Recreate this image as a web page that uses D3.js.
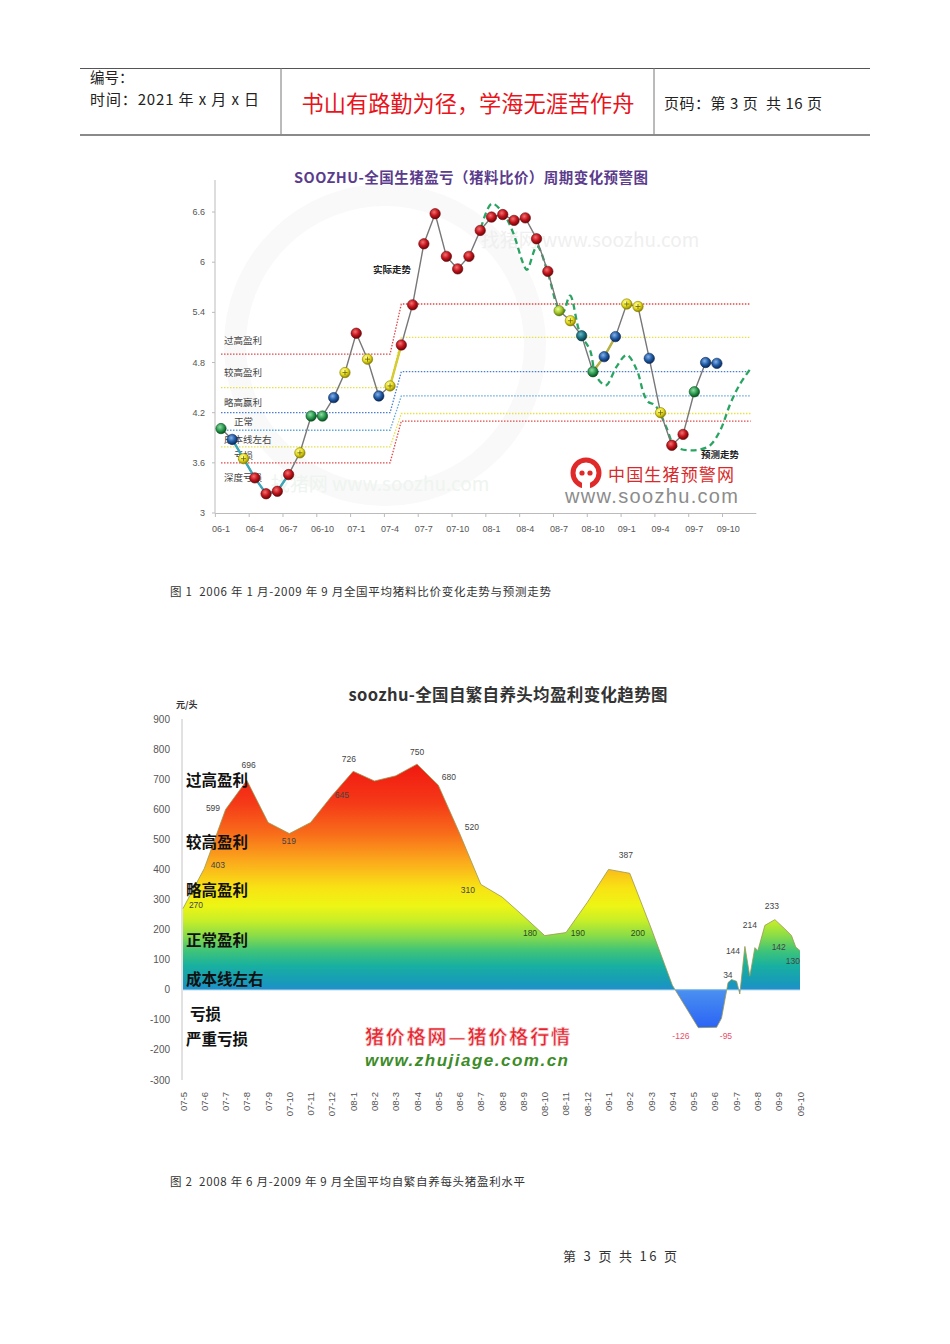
<!DOCTYPE html>
<html>
<head>
<meta charset="utf-8">
<script src="https://cdn.jsdelivr.net/npm/d3@7"></script>
<style>
body { margin: 0; background: #fff; }
svg { display: block; }
text { font-family: "Liberation Sans", "Noto Sans CJK SC", sans-serif; }
.cjk { font-family: "Noto Sans CJK SC", sans-serif; }
.pre { white-space: pre; }
</style>
</head>
<body>
<div id="page"></div>
<script>
// ---------- data: chart 1 (pig/feed price ratio) ----------
const ratioTickLabels = ['06-1', '06-4', '06-7', '06-10', '07-1', '07-4', '07-7', '07-10',
    '08-1', '08-4', '08-7', '08-10', '09-1', '09-4', '09-7', '09-10'];
const ratioYTicks = [3, 3.6, 4.2, 4.8, 5.4, 6, 6.6];
const ratioValues = [4.01, 3.88, 3.65, 3.42, 3.23, 3.26, 3.46, 3.72, 4.16, 4.16, 4.38, 4.68,
    5.15, 4.84, 4.40, 4.52, 5.01, 5.49, 6.22, 6.58, 6.07, 5.92, 6.07, 6.38,
    6.54, 6.57, 6.50, 6.53, 6.28, 5.89, 5.42, 5.30, 5.12, 4.69, 4.87, 5.11,
    5.50, 5.47, 4.85, 4.20, 3.81, 3.94, 4.45, 4.80, 4.79];
const ratioZones = ['g', 'b', 'y', 'r', 'r', 'r', 'r', 'y', 'g', 'g', 'b', 'y',
    'r', 'y', 'b', 'y', 'r', 'r', 'r', 'r', 'r', 'r', 'r', 'r',
    'r', 'r', 'r', 'r', 'r', 'r', 'yg', 'y', 't', 'g', 'b', 'b',
    'y', 'y', 'b', 'y', 'r', 'r', 'g', 'b', 'b'];
const forecastMonths = [23.07, 24.02, 25.02, 25.9, 26.8, 27.15, 28.04, 29.0, 29.9, 30.35,
    30.97, 31.85, 32.74, 33.2, 33.8, 34.2, 35.1, 36.0, 36.9, 37.5,
    37.9, 38.5, 39.5, 40.1, 40.7, 41.6, 42.5, 43.4, 44.3, 45.2, 46.0, 47.1];
const forecastValues = [6.41, 6.70, 6.59, 6.36, 5.99, 5.91, 6.19, 5.87, 5.46, 5.40,
    5.60, 5.15, 4.95, 4.67, 4.55, 4.53, 4.75, 4.89, 4.71, 4.43,
    4.33, 4.29, 4.03, 3.83, 3.77, 3.75, 3.76, 3.81, 3.99, 4.31, 4.53, 4.75];
// warning thresholds before and after the 2007 step
const thresholdBefore = [4.90, 4.50, 4.20, 3.99, 3.79, 3.60];
const thresholdAfter = [5.50, 5.10, 4.69, 4.40, 4.19, 4.10];
const thresholdStepMonths = [0, 15, 16, 47];
const zoneNames = ['过高盈利', '较高盈利', '略高赢利', '正常', '成本线左右', '亏损', '深度亏损'];
const zoneLevels = [5.07, 4.69, 4.33, 4.10, 3.89, 3.69, 3.43];

// ---------- data: chart 2 (profit per head) ----------
const profitTickLabels = ['07-5', '07-6', '07-7', '07-8', '07-9', '07-10', '07-11', '07-12',
    '08-1', '08-2', '08-3', '08-4', '08-5', '08-6', '08-7', '08-8', '08-9', '08-10', '08-11', '08-12',
    '09-1', '09-2', '09-3', '09-4', '09-5', '09-6', '09-7', '09-8', '09-9', '09-10'];
const profitYTicks = [-300, -200, -100, 0, 100, 200, 300, 400, 500, 600, 700, 800, 900];
const profitMonths = [0, 1, 2, 3, 4, 5, 6, 7, 8, 9, 10, 11, 12, 13, 14, 15, 16, 17, 18, 19,
    20, 21, 22, 23, 24.22, 25.08, 25.31, 25.62, 25.78, 26.02, 26.17, 26.41, 26.64, 26.88,
    27.02, 27.35, 27.82, 28.29, 28.6, 28.8, 29];
const profitValues = [270, 403, 599, 696, 556, 519, 556, 645, 726, 694, 711, 750, 680, 520, 350, 308,
    245, 180, 190, 290, 400, 387, 205, 15, -126, -125, -95, 24, 34, 28, -14, 144, 45, 140,
    130, 214, 233, 202, 180, 142, 130];
const profitLabelText = ['270', '403', '599', '696', '519', '645', '726', '750', '680', '520', '310',
    '180', '190', '200', '387', '-126', '-95', '34', '144', '214', '233', '142', '130'];
const profitLabelMonths = [0.61, 1.64, 1.41, 3.08, 4.98, 7.47, 7.80, 11.0, 12.5, 13.58, 13.39,
    16.31, 18.56, 21.38, 20.82, 23.4, 25.52, 25.61, 25.85, 26.64, 27.68, 28.0, 28.66];
const profitLabelLevels = [282, 415, 604, 748, 494, 647, 767, 790, 707, 541, 332,
    189, 189, 189, 448, -154, -154, 49, 129, 215, 279, 142, 96];
const profitZoneNames = ['过高盈利', '较高盈利', '略高盈利', '正常盈利', '成本线左右', '亏损', '严重亏损'];
const profitZoneLevels = [697, 490, 330, 165, 36, -80, -165];

// ---------- page ----------
const svg = d3.select('#page').append('svg')
    .attr('width', 950)
    .attr('height', 1344);
svg.append('rect').attr('width', 950).attr('height', 1344).attr('fill', '#fff');
const defs = svg.append('defs');

// header table
const head = svg.append('g');
head.append('line').attr('x1', 80).attr('x2', 870).attr('y1', 68.5).attr('y2', 68.5)
    .attr('stroke', '#555').attr('stroke-width', 1);
head.append('line').attr('x1', 80).attr('x2', 870).attr('y1', 135).attr('y2', 135)
    .attr('stroke', '#8a8a8a').attr('stroke-width', 2);
[281, 654].forEach(function (x) {
    head.append('line').attr('x1', x).attr('x2', x).attr('y1', 68).attr('y2', 134)
        .attr('stroke', '#777').attr('stroke-width', 1);
});
head.append('text').attr('class', 'cjk').attr('x', 90).attr('y', 82.5)
    .attr('font-size', 14.5).attr('fill', '#222').text('编号：');
head.append('text').attr('class', 'cjk pre').attr('x', 90).attr('y', 105)
    .attr('font-size', 15).attr('fill', '#222').attr('textLength', 169)
    .text('时间：2021 年 x 月 x 日');
head.append('text').attr('class', 'cjk').attr('x', 468).attr('y', 112)
    .attr('text-anchor', 'middle').attr('font-size', 22.2).attr('fill', '#e8141c')
    .text('书山有路勤为径，学海无涯苦作舟');
head.append('text').attr('class', 'cjk pre').attr('x', 664).attr('y', 109)
    .attr('font-size', 15).attr('fill', '#222').attr('textLength', 158)
    .text('页码：第 3 页  共 16 页');

// ---------- chart 1 ----------
const c1 = svg.append('g');
const x1 = d3.scaleLinear().domain([0, 47]).range([221, 750.7]);
const y1 = d3.scaleLinear().domain([3, 7]).range([513, 178.6]);

// faint backdrop and watermarks
c1.append('circle').attr('cx', 385).attr('cy', 345).attr('r', 150)
    .attr('fill', 'none').attr('stroke', '#f9f9f9').attr('stroke-width', 22);
c1.append('text').attr('class', 'cjk').attr('x', 590).attr('y', 247)
    .attr('text-anchor', 'middle').attr('font-size', 19).attr('fill', '#efefef')
    .text('找猪网 www.soozhu.com');
c1.append('text').attr('class', 'cjk').attr('x', 380).attr('y', 491)
    .attr('text-anchor', 'middle').attr('font-size', 19).attr('fill', '#eef4ef')
    .text('找猪网 www.soozhu.com');

// title
c1.append('text').attr('class', 'cjk').attr('x', 471).attr('y', 183)
    .attr('text-anchor', 'middle').attr('font-size', 14.5).attr('font-weight', 700)
    .attr('fill', '#5b3c8c').attr('textLength', 354)
    .text('SOOZHU-全国生猪盈亏（猪料比价）周期变化预警图');

// axes
c1.append('line').attr('x1', 215).attr('x2', 215).attr('y1', 180).attr('y2', 513)
    .attr('stroke', '#bbb');
c1.append('line').attr('x1', x1(-0.5)).attr('x2', x1(47.5)).attr('y1', 513.5).attr('y2', 513.5)
    .attr('stroke', '#bbb');
const y1Axis = c1.append('g').selectAll('g').data(ratioYTicks).join('g');
y1Axis.append('line').attr('x1', 212).attr('x2', 215)
    .attr('y1', d => y1(d)).attr('y2', d => y1(d)).attr('stroke', '#bbb');
y1Axis.append('text').attr('x', 205).attr('y', d => y1(d) + 3)
    .attr('text-anchor', 'end').attr('font-size', 9).attr('fill', '#555')
    .text(d => d3.format('~g')(d));
const x1Ticks = c1.append('g').selectAll('g').data(ratioTickLabels).join('g');
x1Ticks.append('line')
    .attr('x1', (d, i) => x1(i * 3 - 0.5)).attr('x2', (d, i) => x1(i * 3 - 0.5))
    .attr('y1', 513).attr('y2', 517).attr('stroke', '#bbb');
x1Ticks.append('text').attr('x', (d, i) => x1(i * 3)).attr('y', 532)
    .attr('text-anchor', 'middle').attr('font-size', 9).attr('fill', '#555').text(d => d);

// threshold lines
const thresholdColors = ['#e04848', '#e8e048', '#4a7ed0', '#62a8dc', '#e8e048', '#e04848'];
const stepLine = d3.line().x(d => x1(d[0])).y(d => y1(d[1]));
thresholdBefore.forEach(function (v, k) {
    const lv = [v, v, thresholdAfter[k], thresholdAfter[k]];
    c1.append('path')
        .attr('d', stepLine(thresholdStepMonths.map((m, j) => [m, lv[j]])))
        .attr('fill', 'none').attr('stroke', thresholdColors[k])
        .attr('stroke-width', 1.3).attr('stroke-dasharray', '1.5,1.5');
});
c1.selectAll('.zone').data(zoneNames).join('text')
    .attr('class', 'zone cjk')
    .attr('x', (d, i) => (i === 3 || i === 5) ? 234 : 224)
    .attr('y', (d, i) => y1(zoneLevels[i]) + 4)
    .attr('font-size', 9.5).attr('fill', '#444').text(d => d);

// forecast curve
c1.append('path')
    .attr('d', d3.line().curve(d3.curveCatmullRom.alpha(0.5))
        .x((d, i) => x1(forecastMonths[i])).y(d => y1(d))(forecastValues))
    .attr('fill', 'none').attr('stroke', '#2aa462').attr('stroke-width', 2.3)
    .attr('stroke-dasharray', '6,4');

// actual line
const actualLine = d3.line().x((d, i) => x1(i)).y(d => y1(d));
c1.append('path').attr('d', actualLine(ratioValues))
    .attr('fill', 'none').attr('stroke', '#777').attr('stroke-width', 1.4);
const lineAccents = [[1, 6, '#3aa6b8'], [15, 16, '#d6cc30'], [33, 35, '#b8b040']];
lineAccents.forEach(function (a) {
    c1.append('path')
        .attr('d', d3.line().x(d => x1(d)).y(d => y1(ratioValues[d]))(d3.range(a[0], a[1] + 1)))
        .attr('fill', 'none').attr('stroke', a[2]).attr('stroke-width', 2.4);
});

// dots
const zoneColors = {
    r: ['#f27070', '#c4141c', '#6a0608'],
    y: ['#ffffb0', '#e6dc1e', '#8a8000'],
    b: ['#86b2ea', '#215ca6', '#0a2858'],
    g: ['#90dca0', '#2c9c52', '#0a5020'],
    t: ['#6ab8c4', '#1b7282', '#0a3840'],
    yg: ['#e8ff90', '#a6c82e', '#5a780c']
};
Object.keys(zoneColors).forEach(function (k) {
    const g = defs.append('radialGradient').attr('id', 'ball-' + k)
        .attr('cx', '40%').attr('cy', '35%').attr('r', '65%');
    g.append('stop').attr('offset', '0%').attr('stop-color', zoneColors[k][0]);
    g.append('stop').attr('offset', '55%').attr('stop-color', zoneColors[k][1]);
    g.append('stop').attr('offset', '100%').attr('stop-color', zoneColors[k][2]);
});
const balls = ratioValues.map((v, i) => ({ m: i, v: v, zone: ratioZones[i] }));
c1.selectAll('.ball').data(balls).join('circle')
    .attr('class', 'ball')
    .attr('cx', d => x1(d.m)).attr('cy', d => y1(d.v)).attr('r', 5.2)
    .attr('fill', d => 'url(#ball-' + d.zone + ')')
    .attr('stroke', d => zoneColors[d.zone][2]).attr('stroke-width', 0.6);
c1.selectAll('.cross').data(balls.filter(d => d.zone === 'y')).join('path')
    .attr('class', 'cross')
    .attr('d', d => 'M' + (x1(d.m) - 2.5) + ',' + y1(d.v) + 'h5M' + x1(d.m) + ',' + (y1(d.v) - 2.5) + 'v5')
    .attr('stroke', '#6a6200').attr('stroke-width', 0.8);

c1.append('text').attr('class', 'cjk').attr('x', 373).attr('y', 273)
    .attr('font-size', 9.5).attr('font-weight', 700).attr('fill', '#222').text('实际走势');
c1.append('text').attr('class', 'cjk').attr('x', 701).attr('y', 458)
    .attr('font-size', 9.5).attr('font-weight', 700).attr('fill', '#222').text('预测走势');

// logo
const logo = c1.append('g').attr('transform', 'translate(586,473)');
logo.append('circle').attr('r', 13).attr('fill', 'none').attr('stroke', '#e02a2a').attr('stroke-width', 5);
logo.append('rect').attr('x', -4).attr('y', 5).attr('width', 8).attr('height', 12).attr('fill', '#fff');
logo.append('circle').attr('cx', -4).attr('cy', 0).attr('r', 2.6).attr('fill', '#e02a2a');
logo.append('circle').attr('cx', 4).attr('cy', 0).attr('r', 2.6).attr('fill', '#e02a2a');
c1.append('text').attr('class', 'cjk').attr('x', 608).attr('y', 481)
    .attr('font-size', 17).attr('fill', '#d82a2a').attr('textLength', 126).text('中国生猪预警网');
c1.append('text').attr('x', 565).attr('y', 503)
    .attr('font-size', 20).attr('fill', '#8c8c8c').attr('textLength', 173).text('www.soozhu.com');

// caption 1
svg.append('text').attr('class', 'cjk pre').attr('x', 170).attr('y', 596)
    .attr('font-size', 11.5).attr('fill', '#333').attr('textLength', 381)
    .text('图 1  2006 年 1 月-2009 年 9 月全国平均猪料比价变化走势与预测走势');

// ---------- chart 2 ----------
const c2 = svg.append('g');
const x2 = d3.scaleLinear().domain([0, 29]).range([183, 800]);
const y2 = d3.scaleLinear().domain([-300, 900]).range([1080, 719]);

c2.append('text').attr('class', 'cjk').attr('x', 508).attr('y', 701)
    .attr('text-anchor', 'middle').attr('font-size', 16.5).attr('font-weight', 700)
    .attr('fill', '#333').attr('textLength', 319).text('soozhu-全国自繁自养头均盈利变化趋势图');
c2.append('text').attr('class', 'cjk').attr('x', 176).attr('y', 708)
    .attr('font-size', 9).attr('font-weight', 700).attr('fill', '#333').text('元/头');

c2.append('line').attr('x1', 182).attr('x2', 182).attr('y1', y2(900)).attr('y2', y2(-300))
    .attr('stroke', '#c4c4c4');
c2.selectAll('.ytick').data(profitYTicks).join('text')
    .attr('class', 'ytick')
    .attr('x', 170).attr('y', d => y2(d) + 3.5)
    .attr('text-anchor', 'end').attr('font-size', 10).attr('fill', '#555').text(d => d);
c2.selectAll('.xtick').data(profitTickLabels).join('text')
    .attr('class', 'xtick')
    .attr('transform', (d, i) => 'translate(' + (x2(i) + 3.5) + ',1092) rotate(-90)')
    .attr('text-anchor', 'end').attr('font-size', 9.5).attr('fill', '#555').text(d => d);

// vertical colour ramp for the area, set by profit level
const rampStops = [[750, '#f01810'], [620, '#f53a18'], [520, '#f86c1a'], [420, '#fbae1c'],
    [340, '#f8e214'], [280, '#eef514'], [230, '#c8ee28'], [180, '#8adc48'], [130, '#40c478'],
    [80, '#18b0a0'], [20, '#1898bc'], [0, '#2090cc'], [-1, '#4a90f0'], [-130, '#2a62f6']];
const ramp = defs.append('linearGradient').attr('id', 'profit-ramp')
    .attr('gradientUnits', 'userSpaceOnUse')
    .attr('x1', 0).attr('x2', 0).attr('y1', y2(750)).attr('y2', y2(-130));
rampStops.forEach(function (s) {
    ramp.append('stop')
        .attr('offset', (y2(s[0]) - y2(750)) / (y2(-130) - y2(750)))
        .attr('stop-color', s[1]);
});
const profitArea = d3.area()
    .x((d, i) => x2(profitMonths[i])).y0(y2(0)).y1(d => y2(d));
c2.append('path').attr('d', profitArea(profitValues)).attr('fill', 'url(#profit-ramp)');
c2.append('path')
    .attr('d', d3.line().x((d, i) => x2(profitMonths[i])).y(d => y2(d))(profitValues))
    .attr('fill', 'none').attr('stroke', '#9a9a50').attr('stroke-width', 1).attr('opacity', 0.8);
c2.append('line').attr('x1', x2(0)).attr('x2', x2(29)).attr('y1', y2(0)).attr('y2', y2(0))
    .attr('stroke', '#78b8e0').attr('stroke-width', 1);

// value labels
c2.selectAll('.vlab').data(profitLabelText).join('text')
    .attr('class', 'vlab')
    .attr('x', (d, i) => x2(profitLabelMonths[i])).attr('y', (d, i) => y2(profitLabelLevels[i]) + 3)
    .attr('text-anchor', 'middle').attr('font-size', 8.5)
    .attr('fill', d => d.startsWith('-') ? '#e8506a' : (d === '180' || d === '190' || d === '200') ? '#2a4a22' : '#444')
    .text(d => d);

// profit zone names
c2.selectAll('.pzone').data(profitZoneNames).join('text')
    .attr('class', 'pzone cjk')
    .attr('x', (d, i) => i === 5 ? 190 : 186).attr('y', (d, i) => y2(profitZoneLevels[i]) + 6)
    .attr('font-size', 15.5).attr('font-weight', 700).attr('fill', '#111').text(d => d);

// watermark
c2.append('text').attr('class', 'cjk').attr('x', 365).attr('y', 1044)
    .attr('font-size', 19).attr('font-weight', 700).attr('fill', '#e8202a')
    .attr('stroke', '#f2d0d0').attr('stroke-width', 0.6)
    .attr('textLength', 205).text('猪价格网—猪价格行情');
c2.append('text').attr('x', 365).attr('y', 1066)
    .attr('font-family', '"DejaVu Sans Mono", monospace').attr('font-style', 'italic')
    .attr('font-weight', 700).attr('font-size', 17).attr('fill', '#3c8c28')
    .attr('textLength', 203).text('www.zhujiage.com.cn');

// caption 2
svg.append('text').attr('class', 'cjk pre').attr('x', 170).attr('y', 1186)
    .attr('font-size', 11.5).attr('fill', '#333').attr('textLength', 355)
    .text('图 2  2008 年 6 月-2009 年 9 月全国平均自繁自养每头猪盈利水平');

// footer
svg.append('text').attr('class', 'cjk pre').attr('x', 563).attr('y', 1261)
    .attr('font-size', 13).attr('fill', '#333').attr('textLength', 114)
    .text('第 3 页 共 16 页');
</script>
</body>
</html>
